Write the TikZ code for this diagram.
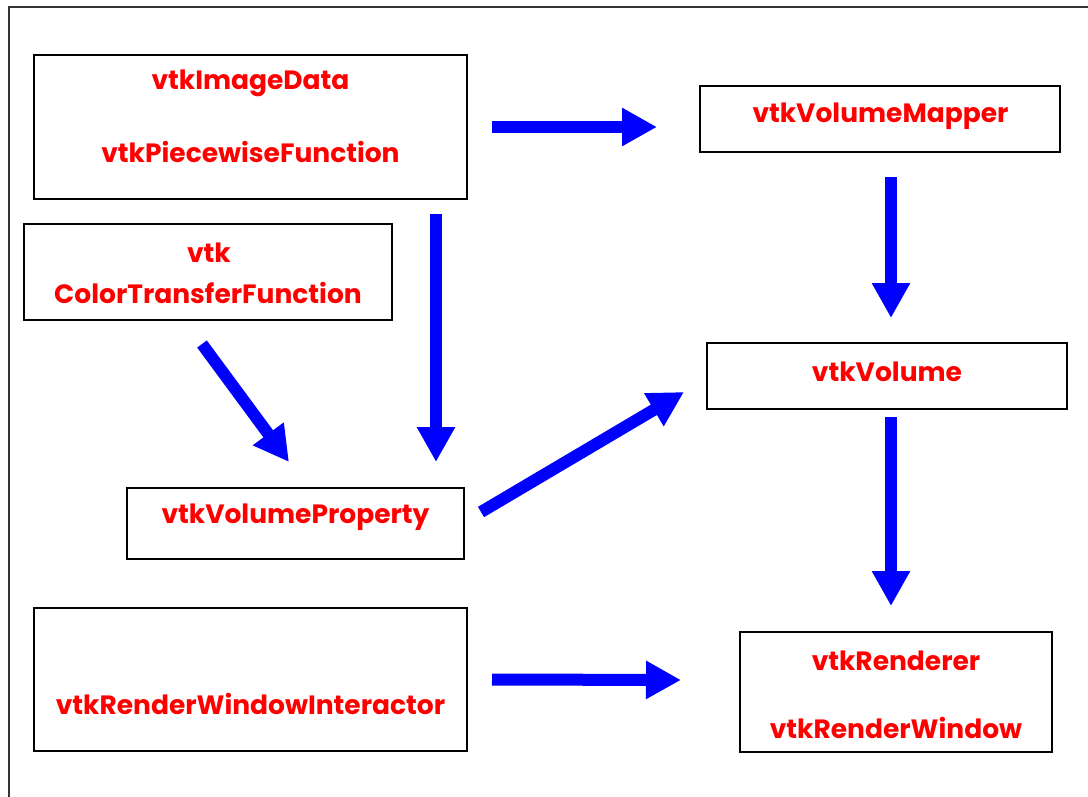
\documentclass[tikz,border=0pt]{standalone}
\usepackage{fontspec}
\setmainfont{Poppins}
\usetikzlibrary{arrows.meta}
\begin{document}
\begin{tikzpicture}[x=1pt,y=-1pt,
  box/.style={draw=black,line width=2,rectangle,inner sep=0,anchor=center},
  lbl/.style={text=red,font=\fontsize{26.5}{30}\selectfont\bfseries,inner sep=0,anchor=center},
  blk/.style={draw=blue,line width=12,-{Triangle[length=35,width=36]}}]
\useasboundingbox (0,0) rectangle (1088,796);
% outer frame, open on the right and bottom
\draw[line width=2,draw=black!80] (9,800) -- (9,7) -- (1090,7);

% boxes
\node[box,minimum width=433,minimum height=144] (img) at (250.5,127) {};
\node[box,minimum width=368,minimum height=96] (ctf) at (208,272) {};
\node[box,minimum width=337,minimum height=71] (prop) at (295.5,523.5) {};
\node[box,minimum width=433,minimum height=143] (rwi) at (250.5,679.5) {};
\node[box,minimum width=360,minimum height=66] (mapper) at (880,119) {};
\node[box,minimum width=360,minimum height=66] (vol) at (887,376) {};
\node[box,minimum width=312,minimum height=120] (ren) at (896,692) {};

% labels
\node[lbl] (t1) at (250.5,83) {vtkImageData};
\node[lbl] (t2) at (250.5,152) {vtkPiecewiseFunction};
\node[lbl] (t3) at (209,253) {vtk};
\node[lbl] (t4) at (208,293) {ColorTransferFunction};
\node[lbl] (t5) at (295.5,517) {vtkVolumeProperty};
\node[lbl] (t6) at (250.5,704) {vtkRenderWindowInteractor};
\node[lbl] (t7) at (880.5,116) {vtkVolumeMapper};
\node[lbl] (t8) at (887,372) {vtkVolume};
\node[lbl] (t9) at (896,661) {vtkRenderer};
\node[lbl] (t10) at (896,728) {vtkRenderWindow};

% pipeline arrows
\draw[blk] ([xshift=24]img.east) -- ([shift={(-42,8)}]mapper.west);
\draw[blk] ([shift={(11,24)}]mapper.south) -- ([shift={(4,-24)}]vol.north);
\draw[blk] ([shift={(4,7)}]vol.south) -- ([shift={(-5,-25)}]ren.north);
\draw[blk] ([shift={(185.5,14)}]img.south) -- ([shift={(140.5,-25)}]prop.north);
\draw[blk] ([shift={(-6,23)}]ctf.south) -- ([shift={(-6.5,-25)}]prop.north);
\draw[blk] ([shift={(16,-11.5)}]prop.east) -- ([shift={(-22,16)}]vol.west);
\draw[blk] ([xshift=24]rwi.east) -- ([shift={(-58,-12)}]ren.west);
\end{tikzpicture}
\end{document}
